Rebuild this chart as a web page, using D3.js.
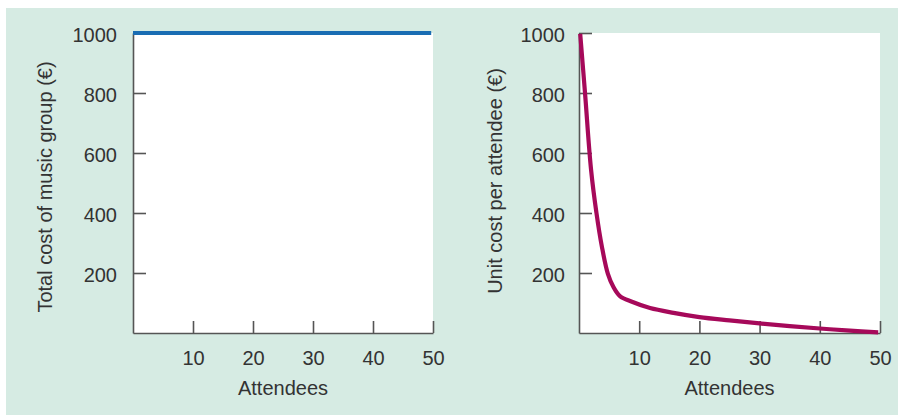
<!DOCTYPE html>
<html>
<head>
<meta charset="utf-8">
<script src="https://cdn.jsdelivr.net/npm/d3@7"></script>
<style>
  html, body { margin: 0; padding: 0; background: #ffffff; }
  svg { display: block; }
  text { font-family: "Liberation Sans", Arial, Helvetica, sans-serif; fill: #333333; }
</style>
</head>
<body>
<svg id="chart" width="898" height="416"></svg>
<script>
// ---- Data ----
const xTicks = [10, 20, 30, 40, 50];
const yTicks = [200, 400, 600, 800, 1000];

// Left chart: total cost of music group (fixed)
const totalAttendees = [0, 49.7];
const totalCost = [1000, 1000];

// Right chart: unit cost per attendee
const unitAttendees = [0.2, 1.0, 2.0, 2.9, 3.8, 4.8, 5.7, 6.8, 8.8, 11.8, 15.7, 20, 25, 30, 35, 40, 45, 49.7];
const unitCost      = [997, 800, 545, 400, 288, 197, 154, 123, 104, 83, 67, 53, 42, 32, 23, 15, 8, 2];

const xLabel = "Attendees";
const leftYLabel = "Total cost of music group (€)";
const rightYLabel = "Unit cost per attendee (€)";

// ---- Drawing ----
const svg = d3.select("#chart");
svg.append("rect").attr("x", 6).attr("y", 8).attr("width", 892).attr("height", 407).attr("fill", "#d6ebe3");

const FS = 20;

function panel(opts) {
  const { left, right, top, bottom, xs, ys, color, yTitle, titleX, labelPad } = opts;
  const x = d3.scaleLinear().domain([0, 50]).range([left, right]);
  const y = d3.scaleLinear().domain([0, 1000]).range([bottom, top]);
  const g = svg.append("g");

  g.append("rect").attr("x", left).attr("y", top)
    .attr("width", right - left).attr("height", bottom - top).attr("fill", "#ffffff");

  const ax = g.append("g").attr("transform", `translate(0,${bottom})`)
    .call(d3.axisBottom(x).tickValues(xTicks).tickFormat(d3.format("d"))
      .tickSizeInner(-12).tickSizeOuter(0).tickPadding(18));
  const ay = g.append("g").attr("transform", `translate(${left},0)`)
    .call(d3.axisLeft(y).tickValues(yTicks).tickFormat(d3.format("d"))
      .tickSizeInner(-13).tickSizeOuter(0).tickPadding(labelPad));
  [ax, ay].forEach(a => {
    a.attr("font-size", FS).attr("font-family", '"Liberation Sans", Arial, sans-serif');
    a.selectAll("path.domain").attr("stroke", "#555").attr("stroke-width", 1.6);
    a.selectAll(".tick line").attr("stroke", "#555").attr("stroke-width", 1.6);
    a.selectAll(".tick text").attr("font-size", FS).attr("fill", "#2e2e2e");
  });
  ax.selectAll(".tick text").attr("dy", "0.68em");
  ay.selectAll(".tick text").attr("dy", "0.44em");

  const data = xs.map((d, i) => [d, ys[i]]);
  g.append("path").datum(data)
    .attr("fill", "none").attr("stroke", color).attr("stroke-width", 4.2)
    .attr("stroke-linecap", "butt")
    .attr("d", d3.line().x(d => x(d[0])).y(d => y(d[1])).curve(d3.curveCatmullRom.alpha(0.5)));

  g.append("text").attr("x", (left + right) / 2).attr("y", 395)
    .attr("text-anchor", "middle").attr("font-size", FS).attr("fill", "#2e2e2e").text(xLabel);

  g.append("text").attr("transform", `translate(${titleX},${(top + bottom) / 2 + opts.titleDy}) rotate(-90)`)
    .attr("text-anchor", "middle").attr("font-size", FS).attr("fill", "#2e2e2e").text(yTitle);
}

panel({ left: 133, right: 433, top: 33, bottom: 333, xs: totalAttendees, ys: totalCost,
        color: "#1a6db3", yTitle: leftYLabel, titleX: 52, titleDy: 4, labelPad: 16 });
panel({ left: 579, right: 880, top: 33, bottom: 333, xs: unitAttendees, ys: unitCost,
        color: "#a6095a", yTitle: rightYLabel, titleX: 502, titleDy: -2, labelPad: 14 });
</script>
</body>
</html>
